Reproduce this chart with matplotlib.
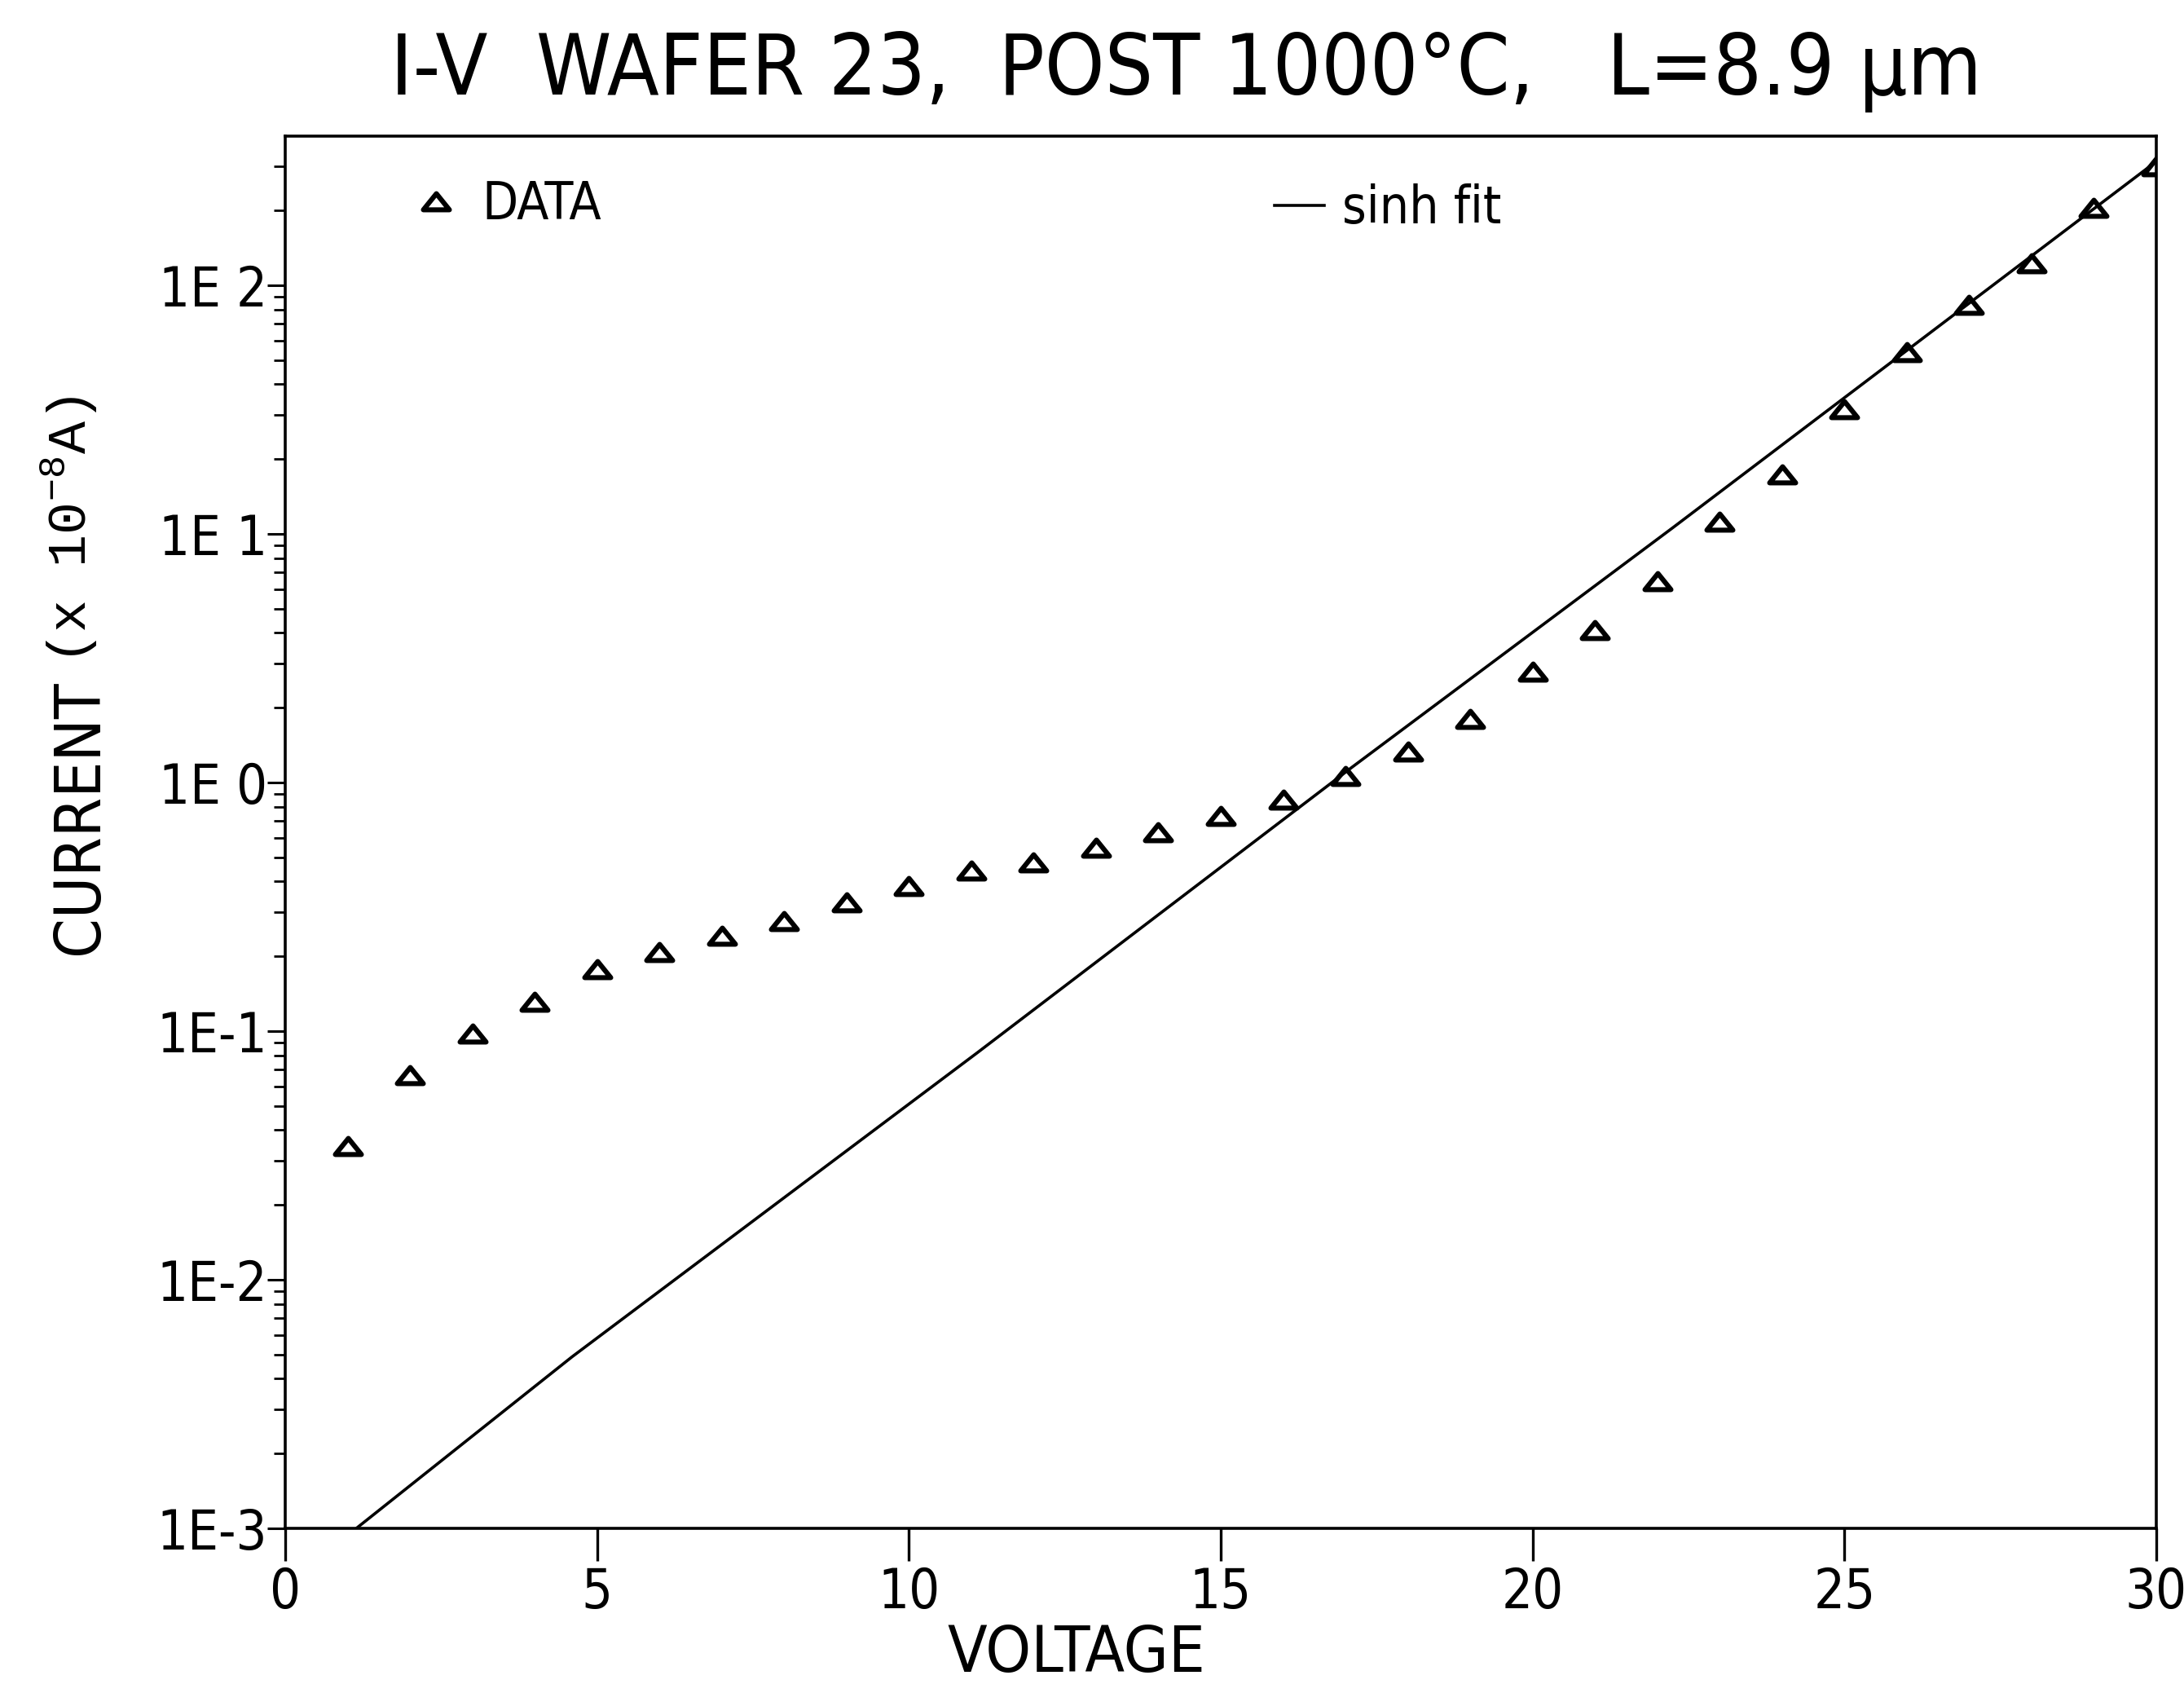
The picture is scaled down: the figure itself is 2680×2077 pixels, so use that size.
import matplotlib
matplotlib.use("Agg")
import matplotlib.pyplot as plt
from matplotlib import font_manager as fm
from matplotlib.path import Path
from matplotlib.lines import Line2D
from matplotlib.ticker import FixedLocator, FixedFormatter, LogLocator, NullFormatter

# ---------------- data ----------------
voltage = [1, 2, 3, 4, 5, 6, 7, 8, 9, 10, 11, 12, 13, 14, 15,
           16, 17, 18, 19, 20, 21, 22, 23, 24, 25, 26, 27, 28, 29, 30]
current = [0.0346, 0.0664, 0.0975, 0.131, 0.178, 0.208, 0.242, 0.278, 0.329, 0.383,
           0.441, 0.476, 0.545, 0.633, 0.736, 0.852, 1.06, 1.33, 1.80, 2.80,
           4.10, 6.47, 11.2, 17.3, 31.8, 53.8, 83.6, 123.0, 205.0, 300.0]

fit_voltage = [1.14, 4.6, 11.10, 17.1, 22.25, 29.95]
fit_current = [1.0e-3, 4.9e-3, 8.2e-2, 1.15, 10.6, 308.0]

x_ticks = [0, 5, 10, 15, 20, 25, 30]
x_tick_labels = ["0", "5", "10", "15", "20", "25", "30"]
y_ticks = [1e-3, 1e-2, 1e-1, 1e0, 1e1, 1e2]
y_tick_labels = ["1E-3", "1E-2", "1E-1", "1E 0", "1E 1", "1E 2"]

title_text = "I-V  WAFER 23,  POST 1000°C,   L=8.9 µm"
xlabel_text = "VOLTAGE"
ylabel_main = "CURRENT"
ylabel_unit = r"(x 10$^{\mathrm{-8}}$A)"
legend_labels = ["DATA", "sinh fit"]


# ---------------- font selection (narrow plotter-like font) ----------------
def pick_narrow_font():
    rank = {"extra-condensed": 0, "condensed": 1, "ultra-condensed": 2, "semi-condensed": 3}
    best = None
    for f in fm.fontManager.ttflist:
        if f.style != "normal":
            continue
        w = f.weight
        if isinstance(w, str):
            ok = w in ("normal", "regular", "book")
        else:
            ok = w == 400
        if not ok:
            continue
        st = f.stretch if isinstance(f.stretch, str) else ""
        key = rank.get(st)
        if key is None and ("Narrow" in f.name or "Condensed" in f.name):
            key = 1
        if key is None:
            continue
        if best is None or key < best[0]:
            best = (key, f.fname)
    return best


_nf = pick_narrow_font()
if _nf is not None:
    NARROW = fm.FontProperties(fname=_nf[1])
    scale = 1.0
else:
    NARROW = fm.FontProperties(family="DejaVu Sans")
    scale = 0.75

plt.rcParams["mathtext.fontset"] = "custom"
plt.rcParams["mathtext.rm"] = "Liberation Mono"
plt.rcParams["mathtext.it"] = "Liberation Mono:italic"
plt.rcParams["mathtext.bf"] = "Liberation Mono:bold"


def fp(size):
    p = NARROW.copy()
    p.set_size(size * scale)
    return p


# ---------------- figure ----------------
W, H = 2680, 2077
fig = plt.figure(figsize=(W / 100, H / 100), dpi=100)
ax = fig.add_axes([350 / W, 1 - 1875 / H, (2646 - 350) / W, (1875 - 167) / H])

tri = Path([(0, 0.62), (-1, -0.62), (1, -0.62), (0, 0.62)],
           [Path.MOVETO, Path.LINETO, Path.LINETO, Path.CLOSEPOLY])

ax.plot(fit_voltage, fit_current, color="black", lw=2.6, solid_capstyle="butt", zorder=2)
ax.plot(voltage, current, linestyle="none", marker=tri, ms=23, mfc="none",
        mec="black", mew=4.4, zorder=3)

ax.set_yscale("log")
ax.set_xlim(0, 30)
ax.set_ylim(1e-3, 10 ** 2.6)

ax.xaxis.set_major_locator(FixedLocator(x_ticks))
ax.xaxis.set_major_formatter(FixedFormatter(x_tick_labels))
ax.xaxis.set_minor_locator(FixedLocator([]))
ax.yaxis.set_major_locator(FixedLocator(y_ticks))
ax.yaxis.set_major_formatter(FixedFormatter(y_tick_labels))
ax.yaxis.set_minor_locator(LogLocator(base=10, subs=range(2, 10), numticks=20))
ax.yaxis.set_minor_formatter(NullFormatter())

ax.tick_params(axis="x", which="major", direction="out", length=29, width=2.4, pad=4,
               top=False)
ax.tick_params(axis="y", which="major", direction="out", length=16, width=2.2, pad=0,
               right=False)
ax.tick_params(axis="y", which="minor", direction="out", length=10, width=2.0, right=False)

for lab in ax.get_xticklabels():
    lab.set_fontproperties(fp(48))
for lab in ax.get_yticklabels():
    lab.set_fontproperties(fp(48))

for s in ax.spines.values():
    s.set_linewidth(2.6)

# title
fig.text(1455 / W, 1 - 116 / H, title_text, fontproperties=fp(75),
         ha="center", va="baseline")

# x label
fig.text(1321 / W, 1 - 2051 / H, xlabel_text, fontproperties=fp(57),
         ha="center", va="baseline")

# y label in two parts
fig.text(98 / W, 1 - 1171 / H, ylabel_main, fontproperties=fp(56), rotation=90,
         ha="center", va="bottom")
fig.text(84 / W, 1 - 815 / H, ylabel_unit, family="Liberation Mono", fontsize=48,
         rotation=90, ha="center", va="bottom")

# legends
h_data = Line2D([], [], linestyle="none", marker=tri, ms=23, mfc="none", mec="black", mew=4.4)
h_fit = Line2D([], [], color="black", lw=2.6)
leg_fs = fp(46)
leg1 = ax.legend([h_data], [legend_labels[0]], loc="center left",
                 bbox_to_anchor=((505 - 350) / 2296, (1875 - 251) / 1708),
                 frameon=False, prop=leg_fs, borderpad=0, borderaxespad=0,
                 handlelength=0.95, handletextpad=0.4)
ax.add_artist(leg1)
ax.legend([h_fit], [legend_labels[1]], loc="center left",
          bbox_to_anchor=((1564 - 350) / 2296, (1875 - 256) / 1708),
          frameon=False, prop=leg_fs, borderpad=0, borderaxespad=0,
          handlelength=0.95, handletextpad=0.35)

fig.savefig("out.png", dpi=100)
